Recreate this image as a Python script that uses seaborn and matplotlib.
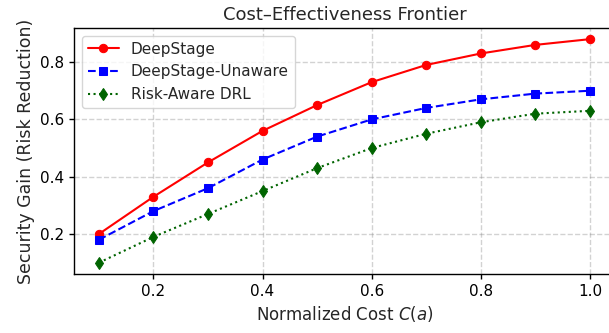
import matplotlib
matplotlib.use("Agg")
import matplotlib.pyplot as plt
import seaborn as sns
import pandas as pd

cost = [0.1, 0.2, 0.3, 0.4, 0.5, 0.6, 0.7, 0.8, 0.9, 1.0]
deepstage = [0.20, 0.33, 0.45, 0.56, 0.65, 0.73, 0.79, 0.83, 0.86, 0.88]
unaware = [0.18, 0.28, 0.36, 0.46, 0.54, 0.60, 0.64, 0.67, 0.69, 0.70]
drl = [0.10, 0.19, 0.27, 0.35, 0.43, 0.50, 0.55, 0.59, 0.62, 0.63]
labels = ["DeepStage", "DeepStage-Unaware", "Risk-Aware DRL"]

sns.set_style("ticks")
plt.rcParams['font.family'] = ['DejaVu Sans']

fig, ax = plt.subplots(figsize=(6.09, 3.33), dpi=100)
styles = [("red", "-", "o", 6), ("blue", "--", "s", 6), ("darkgreen", ":", "d", 6)]
for vals, lab, (c, ls, m, ms) in zip([deepstage, unaware, drl], labels, styles):
    df = pd.DataFrame({"x": cost, "y": vals})
    sns.lineplot(data=df, x="x", y="y", ax=ax, color=c, linestyle=ls, marker=m,
                 markersize=ms, markeredgecolor=c, label=lab, linewidth=1.5)

ax.grid(True, linestyle="--", color="gray", alpha=0.35, linewidth=1.0)
for s in ax.spines.values():
    s.set_color("black")
    s.set_linewidth(1.0)
ax.tick_params(colors="black", labelsize=11, length=3.5, width=1.0)
ax.set_xlabel("Normalized Cost $C(a)$", fontsize=12)
ax.set_ylabel("Security Gain (Risk Reduction)", fontsize=12.5)
ax.set_title("Cost\u2013Effectiveness Frontier", fontsize=13)
ax.set_xticks([0.2, 0.4, 0.6, 0.8, 1.0])
ax.set_yticks([0.2, 0.4, 0.6, 0.8])
ax.legend(loc="upper left", fontsize=11)
fig.subplots_adjust(left=0.122, right=1.009, top=0.916, bottom=0.1775)
fig.savefig("out.png", dpi=100)
